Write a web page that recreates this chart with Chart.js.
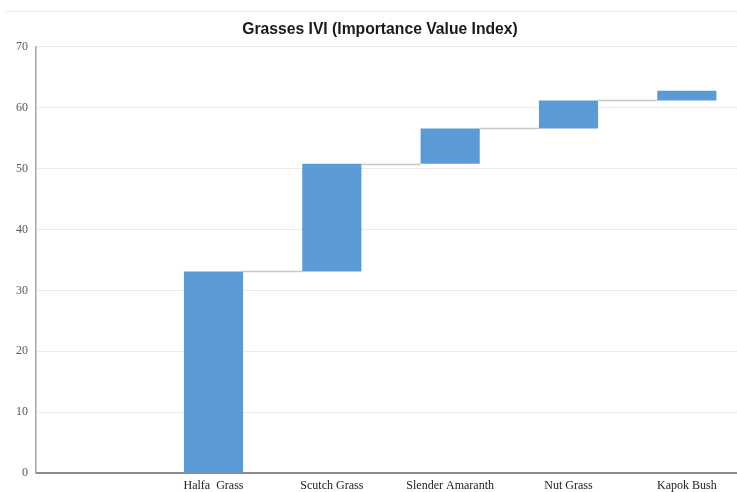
<!DOCTYPE html>
<html>
<head>
<meta charset="utf-8">
<script src="https://cdn.jsdelivr.net/npm/chart.js@4/dist/chart.umd.min.js"></script>
<style>
  html, body { margin: 0; padding: 0; background: #fff; overflow: hidden; width: 737px; height: 492px; }
  #wrap { position: relative; width: 750px; height: 492px; }
  #frame { position: absolute; left: 5px; right: 0; top: 11px; border-top: 1px solid #ececec; }
  canvas { position: absolute; left: 0; top: 0; }
</style>
</head>
<body>
<div id="wrap">
  <div id="frame"></div>
  <canvas id="ivi" width="750" height="492"></canvas>
</div>
<script>
const categories = ['', 'Halfa  Grass', 'Scutch Grass', 'Slender Amaranth', 'Nut Grass', 'Kapok Bush'];
const iviValues = [null, 33.1, 17.7, 5.8, 4.6, 1.6];
const yMin = 0;
const yMax = 70;
const yStep = 10;

// running totals -> floating bars [start, end]
let running = 0;
const ranges = iviValues.map(v => {
    if (v === null) return null;
    const r = [running, running + v];
    running += v;
    return r;
});

// thin grey connectors between the bars
const connectors = {
    id: 'connectors',
    beforeDatasetsDraw(chart) {
        const meta = chart.getDatasetMeta(0);
        const y = chart.scales.y;
        const c = chart.ctx;
        c.save();
        c.strokeStyle = '#c8c8c8';
        c.lineWidth = 1.5;
        for (let i = 0; i < ranges.length - 1; i++) {
            if (!ranges[i] || !ranges[i + 1]) continue;
            const a = meta.data[i];
            const b = meta.data[i + 1];
            const py = Math.round(y.getPixelForValue(ranges[i][1])) + 0.5;
            c.beginPath();
            c.moveTo(a.x + a.width / 2, py);
            c.lineTo(b.x - b.width / 2, py);
            c.stroke();
        }
        c.restore();
    }
};

new Chart(document.getElementById('ivi'), {
    type: 'bar',
    data: {
        labels: categories,
        datasets: [{
            data: ranges,
            backgroundColor: '#5b9bd5',
            borderWidth: 0,
            barPercentage: 0.5,
            categoryPercentage: 1
        }]
    },
    options: {
        responsive: false,
        animation: false,
        layout: { padding: { left: 14, right: 4, top: 0, bottom: 0 } },
        plugins: {
            legend: { display: false },
            tooltip: { enabled: false },
            title: {
                display: true,
                text: 'Grasses IVI (Importance Value Index)',
                color: '#1a1a1a',
                font: { family: '"Liberation Sans", Arial, sans-serif', size: 15.7, weight: 'bold' },
                padding: { top: 20, bottom: 8 }
            }
        },
        scales: {
            x: {
                grid: { display: false, drawTicks: false },
                border: { display: true, color: '#8c8c8c', width: 2 },
                ticks: {
                    color: '#222',
                    padding: 6,
                    maxRotation: 0,
                    autoSkip: false,
                    font: { family: '"Liberation Serif", "Times New Roman", serif', size: 12 }
                },
                afterFit(scale) { scale.height = 19; }
            },
            y: {
                min: yMin,
                max: yMax,
                grid: { color: '#ebebeb', lineWidth: 1, drawTicks: false },
                border: { display: true, color: '#a6a6a6', width: 1.5 },
                ticks: {
                    stepSize: yStep,
                    color: '#595959',
                    padding: 8,
                    font: { family: '"Liberation Serif", "Times New Roman", serif', size: 12 }
                },
                afterFit(scale) { scale.width = 22; }
            }
        }
    },
    plugins: [connectors]
});
</script>
</body>
</html>
